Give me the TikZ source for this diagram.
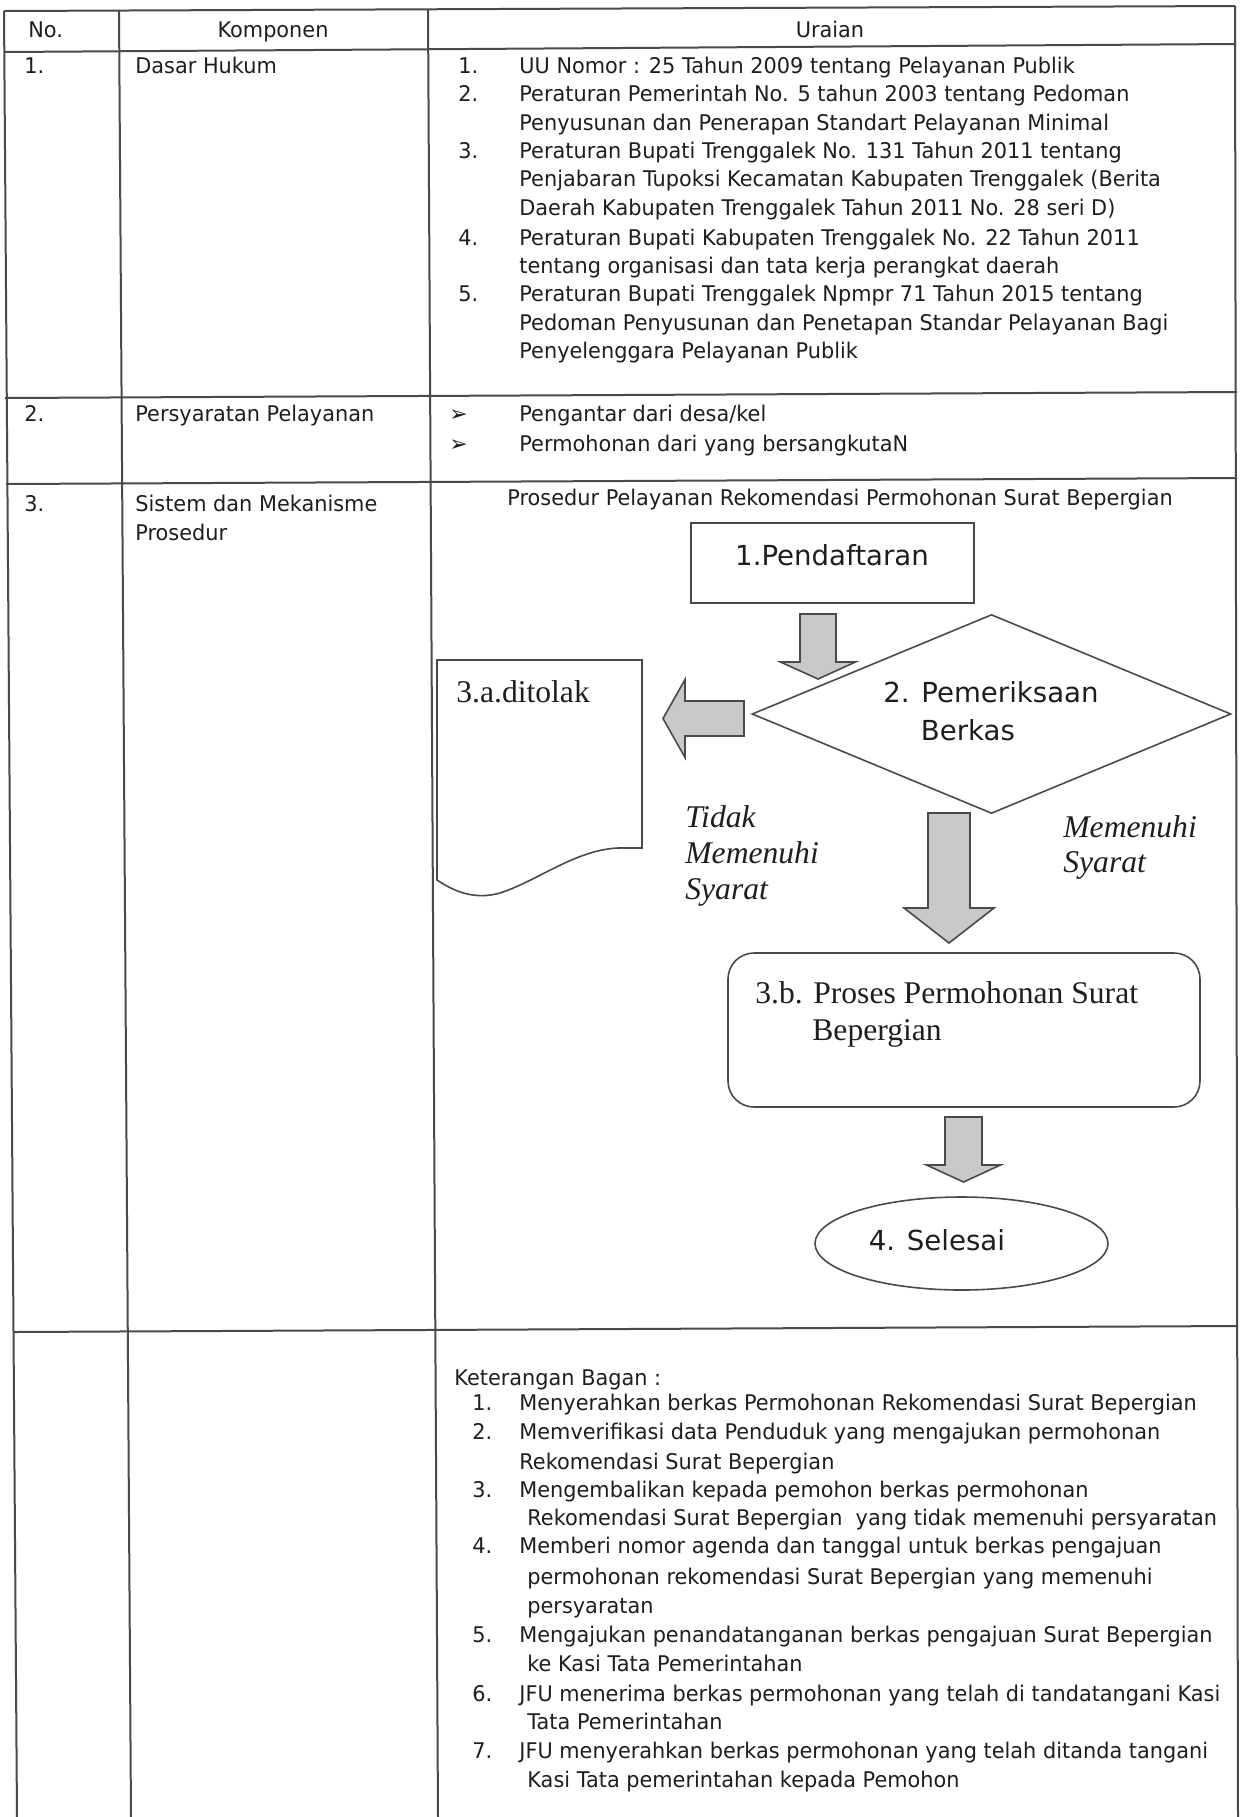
\documentclass[tikz,border=0pt]{standalone}
\usepackage{fontspec}
\setmainfont{DejaVu Sans}[FakeStretch=0.965]
\newfontfamily\flowfam{DejaVu Sans}
\newfontfamily\timesf{Liberation Serif}
\usetikzlibrary{shapes.geometric,calc}

\definecolor{ink}{HTML}{1E1E1E}
\definecolor{rulec}{HTML}{4A4A4A}
\definecolor{arrfill}{HTML}{C9C9C9}

\newcommand\tblfont{\fontsize{10.8}{14}\selectfont}
\newcommand\flowfont{\flowfam\fontsize{13.8}{16}\selectfont}
\newcommand\serffont{\timesf\fontsize{15.8}{18}\selectfont}

% vertical block arrow: start, tip, half shaft, half head, head length
\newcommand\vblock[5]{%
  \path[blockarrow] ($(#1)+(-#3,0)$) -- ($(#1)+(#3,0)$) -- ($(#2)+(#3,-#5)$)
    -- ($(#2)+(#4,-#5)$) -- (#2) -- ($(#2)+(-#4,-#5)$) -- ($(#2)+(-#3,-#5)$) -- cycle;}
% leftward block arrow: start, tip, half shaft, half head, head length
\newcommand\hblock[5]{%
  \path[blockarrow] ($(#1)+(0,-#3)$) -- ($(#1)+(0,#3)$) -- ($(#2)+(#5,#3)$)
    -- ($(#2)+(#5,#4)$) -- (#2) -- ($(#2)+(#5,-#4)$) -- ($(#2)+(#5,-#3)$) -- cycle;}

\tikzset{
  tblrule/.style={draw=rulec, line width=1pt},
  txt/.style={anchor=base west, inner sep=0pt, font=\tblfont, text=ink},
  ctxt/.style={anchor=base, inner sep=0pt, font=\tblfont, text=ink},
  shapeline/.style={draw=rulec, line width=0.8pt},
  boxst/.style={shapeline, rectangle, inner sep=0pt},
  flowtxt/.style={inner sep=0pt, font=\flowfont, text=ink},
  serftxt/.style={anchor=base west, inner sep=0pt, font=\serffont, text=ink},
  serfit/.style={anchor=base west, inner sep=0pt, font=\serffont\itshape, text=ink},
  blockarrow/.style={draw=rulec, fill=arrfill, line width=0.8pt, line join=miter},
  bullet/.style={anchor=base west, inner sep=0pt, font=\flowfam\fontsize{11}{12}\selectfont, text=ink},
}

\begin{document}
\begin{tikzpicture}[x=0.5pt, y=-0.5pt]
\useasboundingbox (0,0) rectangle (1242,1817);
\fill[white] (0,0) rectangle (1242,1817);

% ---- table grid ----
\draw[tblrule] (4,11) -- (1235,6);
\draw[tblrule] (4,52) -- (1236,44);
\draw[tblrule] (5,398) -- (1237,392);
\draw[tblrule] (6,484) -- (1237,478);
\draw[tblrule] (14,1332) -- (1238,1326);
\draw[tblrule] (4,11) -- (17,1817);
\draw[tblrule] (119,10) -- (131,1817);
\draw[tblrule] (428,9) -- (438,1817);
\draw[tblrule] (1235,6) -- (1238,1817);

% ---- header ----
\node[txt]  (hno)   at (28,37)  {No.};
\node[ctxt] (hkomp) at (273,37) {Komponen};
\node[ctxt] (hur)   at (830,37) {Uraian};

% ---- row 1 ----
\node[txt] (n1) at (24,73)  {1.};
\node[txt] (k1) at (135,73) {Dasar Hukum};
\node[txt] (a1) at (458,73)  {1.};
\node[txt] (a2) at (458,101) {2.};
\node[txt] (a3) at (458,158) {3.};
\node[txt] (a4) at (458,245) {4.};
\node[txt] (a5) at (458,301) {5.};
\node[txt] (u1)  at (519,73)  {UU Nomor : 25 Tahun 2009 tentang Pelayanan Publik};
\node[txt] (u2)  at (519,101) {Peraturan Pemerintah No. 5 tahun 2003 tentang Pedoman};
\node[txt] (u3)  at (519,130) {Penyusunan dan Penerapan Standart Pelayanan Minimal};
\node[txt] (u4)  at (519,158) {Peraturan Bupati Trenggalek No. 131 Tahun 2011 tentang};
\node[txt] (u5)  at (519,186) {Penjabaran Tupoksi Kecamatan Kabupaten Trenggalek (Berita};
\node[txt] (u6)  at (519,215) {Daerah Kabupaten Trenggalek Tahun 2011 No. 28 seri D)};
\node[txt] (u7)  at (519,245) {Peraturan Bupati Kabupaten Trenggalek No. 22 Tahun 2011};
\node[txt] (u8)  at (519,273) {tentang organisasi dan tata kerja perangkat daerah};
\node[txt] (u9)  at (519,301) {Peraturan Bupati Trenggalek Npmpr 71 Tahun 2015 tentang};
\node[txt] (u10) at (519,330) {Pedoman Penyusunan dan Penetapan Standar Pelayanan Bagi};
\node[txt] (u11) at (519,358) {Penyelenggara Pelayanan Publik};

% ---- row 2 ----
\node[txt] (n2) at (24,421)  {2.};
\node[txt] (k2) at (135,421) {Persyaratan Pelayanan};
\node[bullet] (b1) at (449,421) {➢};
\node[bullet] (b2) at (449,451) {➢};
\node[txt] (p1) at (519,421) {Pengantar dari desa/kel};
\node[txt] (p2) at (519,451) {Permohonan dari yang bersangkutaN};

% ---- row 3 ----
\node[txt] (n3)  at (24,511)  {3.};
\node[txt] (k3a) at (135,511) {Sistem dan Mekanisme};
\node[txt] (k3b) at (135,540) {Prosedur};
\node[txt] (title) at (507,505) {Prosedur Pelayanan Rekomendasi Permohonan Surat Bepergian};

% flowchart shapes
\node[boxst, minimum width=141.5pt, minimum height=40pt] (pend) at (832.5,563) {};
\node[flowtxt] (pendt) at (832,555) {1.Pendaftaran};

\node[diamond, shapeline, minimum width=239.5pt, minimum height=99.5pt, inner sep=0pt] (cek) at (991.5,714) {};
\node[flowtxt, anchor=base] (cekt1) at (991,702) {2. Pemeriksaan};
\node[flowtxt, anchor=base] (cekt2) at (968,740) {Berkas};

\draw[shapeline] (437,660) -- (642,660) -- (642,848) -- (626,848)
  .. controls (580,846) and (540,880) .. (500,893)
  .. controls (475,900) and (455,892) .. (437,880) -- cycle;
\node[serftxt] (tolak) at (456,702) {3.a.ditolak};

\node[serfit] (tm1) at (685,827) {Tidak};
\node[serfit] (tm2) at (685,863) {Memenuhi};
\node[serfit] (tm3) at (685,899) {Syarat};
\node[serfit] (ms1) at (1063,837) {Memenuhi};
\node[serfit] (ms2) at (1063,872) {Syarat};

\node[boxst, rounded corners=13pt, minimum width=236pt, minimum height=77pt] (proses) at (964,1030) {};
\node[serftxt] (prost1) at (755,1003) {3.b. Proses Permohonan Surat};
\node[serftxt] (prost2) at (812,1040) {Bepergian};

\node[ellipse, shapeline, minimum width=146.5pt, minimum height=46.5pt, inner sep=0pt] (done) at (961.5,1243.5) {};
\node[flowtxt] (donet) at (937,1240) {4. Selesai};

% block arrows
\coordinate (a1s) at (818,614);   \coordinate (a1e) at (818,679);
\coordinate (a2s) at (744,718.5); \coordinate (a2e) at (663,718.5);
\coordinate (a3s) at (949,813);   \coordinate (a3e) at (949,943);
\coordinate (a4s) at (963.5,1117);\coordinate (a4e) at (963.5,1182);
\vblock{a1s}{a1e}{18}{37.5}{17}
\hblock{a2s}{a2e}{17.5}{39}{22}
\vblock{a3s}{a3e}{21}{45}{35}
\vblock{a4s}{a4e}{18.5}{37}{17}

% ---- row 4 ----
\node[txt] (ket) at (454,1385) {Keterangan Bagan :};
\node[txt] (m1) at (472,1410) {1.};
\node[txt] (m2) at (472,1439) {2.};
\node[txt] (m3) at (472,1497) {3.};
\node[txt] (m4) at (472,1553) {4.};
\node[txt] (m5) at (472,1642) {5.};
\node[txt] (m6) at (472,1701) {6.};
\node[txt] (m7) at (472,1758) {7.};
\node[txt] (e1)  at (519,1410) {Menyerahkan berkas Permohonan Rekomendasi Surat Bepergian};
\node[txt] (e2)  at (519,1439) {Memverifikasi data Penduduk yang mengajukan permohonan};
\node[txt] (e3)  at (519,1469) {Rekomendasi Surat Bepergian};
\node[txt] (e4)  at (519,1497) {Mengembalikan kepada pemohon berkas permohonan};
\node[txt] (e5)  at (527,1525) {Rekomendasi Surat Bepergian\ \ yang tidak memenuhi persyaratan};
\node[txt] (e6)  at (519,1553) {Memberi nomor agenda dan tanggal untuk berkas pengajuan};
\node[txt] (e7)  at (527,1584) {permohonan rekomendasi Surat Bepergian yang memenuhi};
\node[txt] (e8)  at (527,1613) {persyaratan};
\node[txt] (e9)  at (519,1642) {Mengajukan penandatanganan berkas pengajuan Surat Bepergian};
\node[txt] (e10) at (527,1671) {ke Kasi Tata Pemerintahan};
\node[txt] (e11) at (519,1701) {JFU menerima berkas permohonan yang telah di tandatangani Kasi};
\node[txt] (e12) at (527,1729) {Tata Pemerintahan};
\node[txt] (e13) at (519,1758) {JFU menyerahkan berkas permohonan yang telah ditanda tangani};
\node[txt] (e14) at (527,1787) {Kasi Tata pemerintahan kepada Pemohon};
\end{tikzpicture}
\end{document}
